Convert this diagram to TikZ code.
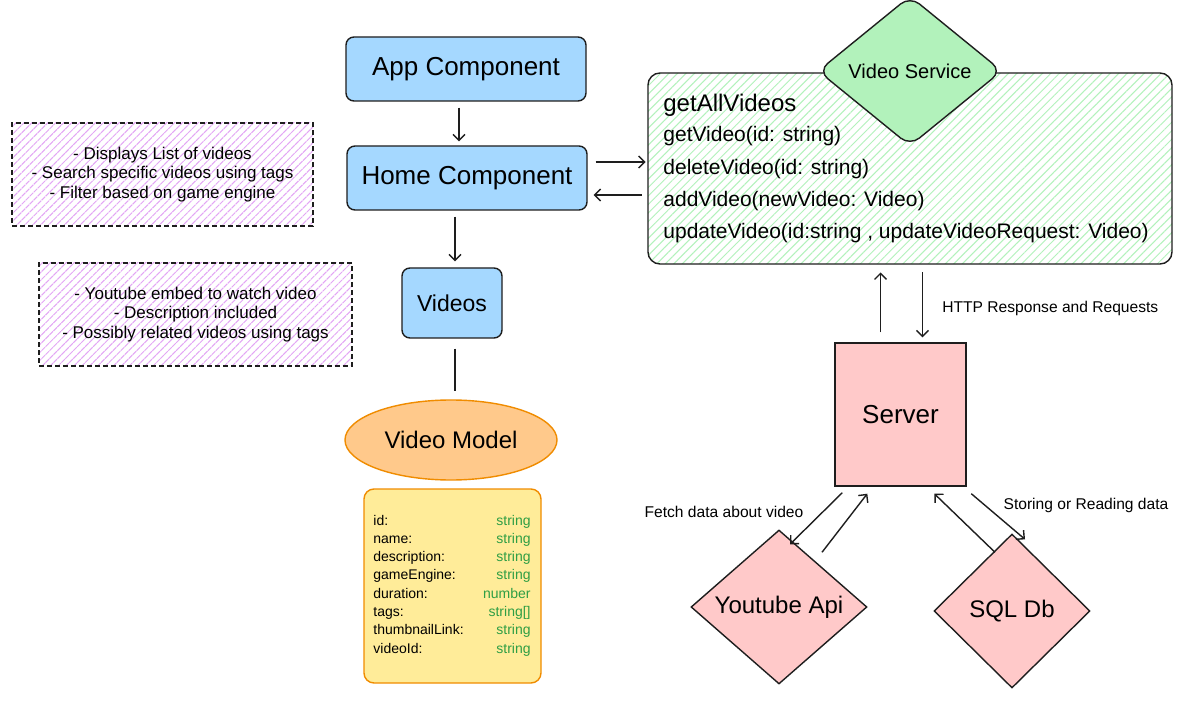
\documentclass[tikz,border=0pt]{standalone}
\usepackage{fontspec}
\setmainfont{Liberation Sans}
\usetikzlibrary{positioning,calc,shapes.geometric,arrows.meta,patterns.meta}

\definecolor{compblue}{HTML}{A5D8FF}
\definecolor{servgreen}{HTML}{B2F2BB}
\definecolor{srvred}{HTML}{FFC9C9}
\definecolor{modelorange}{HTML}{FFC98B}
\definecolor{modelline}{HTML}{F08C00}
\definecolor{modelfill}{HTML}{FFEC99}
\definecolor{notepurple}{HTML}{E3A6F5}
\definecolor{typegreen}{HTML}{2F9E44}
\definecolor{ink}{HTML}{1E1E1E}

\tikzset{
  comp/.style={draw=ink,fill=compblue,rounded corners=4pt,line width=0.7pt,
    font=\fontsize{13}{15}\selectfont},
  note/.style={draw=ink,dash pattern=on 2.5pt off 1.5pt,line width=0.6pt,
    pattern={Lines[angle=45,distance=2.8pt,line width=0.5pt]},pattern color=notepurple,
    align=center,font=\fontsize{8.5}{9.75}\selectfont},
  redbox/.style={draw=ink,fill=srvred,line width=0.7pt},
  reddia/.style={diamond,draw=ink,fill=srvred,line width=0.7pt,inner sep=0pt,
    font=\fontsize{12}{14}\selectfont},
  method/.style={anchor=base west,inner sep=0pt,font=\fontsize{10.5}{12}\selectfont},
  field/.style={inner sep=0pt,font=\fontsize{7}{8}\selectfont},
  lbl/.style={inner sep=0pt,font=\fontsize{7.8}{9}\selectfont},
  arr/.style={-{Straight Barb[length=3pt,width=6pt]},draw=ink,line width=0.7pt}
}

\begin{document}
\begin{tikzpicture}[x=0.5pt,y=-0.5pt]
\fill[white] (0,0) rectangle (1191,717);
\path[use as bounding box] (0,0) rectangle (1191,717);

% components
\node[comp,minimum width=120pt,minimum height=32pt] (app) at (466,69) {App Component};
\node[comp,minimum width=120pt,minimum height=32pt] (home) at (467,178) {Home Component};
\node[comp,minimum width=50pt,minimum height=35pt,font=\fontsize{11.5}{13}\selectfont] (videos) at (452,303) {Videos};

% notes
\node[note,minimum width=150.5pt,minimum height=51.5pt] (homenote) at (162.5,174.5)
  {- Displays List of videos\\- Search specific videos using tags\\- Filter based on game engine};
\node[note,minimum width=156.5pt,minimum height=51.5pt] (videonote) at (195.5,314.5)
  {- Youtube embed to watch video\\- Description included\\- Possibly related videos using tags};

% model
\node[ellipse,draw=modelline,fill=modelorange,line width=0.7pt,minimum width=106pt,
  minimum height=40pt,font=\fontsize{12}{14}\selectfont] (model) at (451,440) {Video Model};
\node[draw=modelline,fill=modelfill,rounded corners=5pt,line width=0.7pt,
  minimum width=88.5pt,minimum height=97pt] (fields) at (452.5,586) {};
\foreach \f/\t [count=\i] in {id:/string,name:/string,description:/string,
    gameEngine:/string,duration:/number,tags:/{string[]},thumbnailLink:/string,videoId:/string}{
  \node[field,anchor=base west] (f\i) at (373,{525+18.3*(\i-1)}) {\f};
  \node[field,anchor=base east,text=typegreen] (t\i) at (531,{525+18.3*(\i-1)}) {\t};
}

% service
\node[draw=ink,rounded corners=6pt,line width=0.7pt,minimum width=262pt,minimum height=95.5pt,
  pattern={Lines[angle=45,distance=3pt,line width=0.5pt]},pattern color=servgreen] (service) at (910,168.5) {};
\node[diamond,draw=ink,fill=servgreen,rounded corners=6pt,line width=0.7pt,inner sep=0pt,
  minimum width=92pt,minimum height=75pt,aspect=1.24,font=\fontsize{10}{12}\selectfont] (servtitle) at (910,71) {Video Service};
\node[method,font=\fontsize{12}{14}\selectfont] (m0) at (663,112) {getAllVideos};
\foreach \m [count=\i] in {getVideo(id: string),deleteVideo(id: string),addVideo(newVideo: Video),
    {updateVideo(id:string , updateVideoRequest: Video)}}{
  \node[method] (m\i) at (663,{142+32.3*(\i-1)}) {\m};
}

% backend
\node[redbox,minimum width=65.5pt,minimum height=71.5pt,font=\fontsize{13}{15}\selectfont] (server) at (900.5,414.5) {Server};
\node[reddia,minimum width=88pt,minimum height=77pt,aspect=1.14] (youtube) at (779,607) {Youtube Api};
\node[reddia,minimum width=78pt,minimum height=77pt,aspect=1.0] (sqldb) at (1012,611) {SQL Db};

\node[lbl,anchor=west] (httplbl) at (942,308) {HTTP Response and Requests};
\node[lbl] (fetchlbl) at (724,512) {Fetch data about video};
\node[lbl] (storelbl) at (1086,505) {Storing or Reading data};

% connectors
\draw[arr,shorten <=3pt,shorten >=2pt] ([xshift=-3.5pt]app.south) -- ([xshift=-3.5pt]app.south |- home.north);
\draw[arr,shorten <=3pt,shorten >=3pt] ([xshift=1.5pt]videos.north |- home.south) -- ([xshift=1.5pt]videos.north);
\draw[draw=ink,line width=0.7pt,shorten <=5pt,shorten >=4pt] ([xshift=1.5pt]videos.south) -- ([xshift=1.5pt]videos.south |- model.north);
\draw[arr,shorten <=4pt,shorten >=1pt] ([yshift=8pt]home.east) -- ([yshift=8pt]home.east -| service.west);
\draw[arr,shorten <=3pt,shorten >=3pt] ([yshift=-8.5pt]home.east -| service.west) -- ([yshift=-8.5pt]home.east);
\draw[arr,shorten <=5pt,shorten >=4pt] ([xshift=-10pt]server.north) -- ([xshift=-10pt]server.north |- service.south);
\draw[arr,shorten <=4pt,shorten >=2.5pt] ([xshift=11pt]server.north |- service.south) -- ([xshift=11pt]server.north);
\draw[arr] ($(server.south west)+(8,6)$) -- ($(youtube.north)+(11,15)$);
\draw[arr] ($(youtube.north)+(43,23)$) -- ($(server.south west)+(33,7)$);
\draw[arr] ($(sqldb.north)+(-17,19)$) -- ($(server.south west)+(100,7)$);
\draw[arr] ($(server.south west)+(137,7)$) -- ($(sqldb.north)+(13,6)$);
\end{tikzpicture}
\end{document}
